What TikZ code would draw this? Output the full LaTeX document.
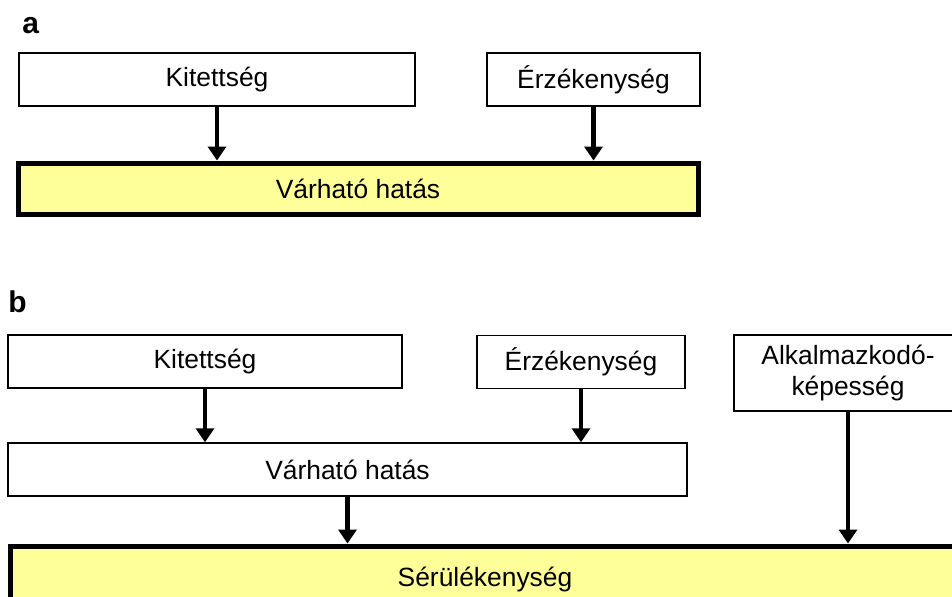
\documentclass[tikz,border=0pt]{standalone}
\usepackage{fontspec}
\setmainfont{Liberation Sans}
\usetikzlibrary{arrows.meta}
\definecolor{lightyellow}{HTML}{FFFF99}

\tikzset{
  box/.style={draw=black, fill=white, line width=0.75pt, inner sep=0pt,
    minimum height=26.5pt, font=\fontsize{13.2}{15.5}\selectfont, align=center},
  resultbox/.style={box, fill=lightyellow, line width=2.5pt},
  flow/.style={line width=2.2pt, -{Triangle[width=9pt,length=7pt]}},
  panel/.style={font=\fontsize{15}{18}\selectfont\bfseries, inner sep=0pt, anchor=base west}
}

\begin{document}
\begin{tikzpicture}[x=0.5pt, y=-0.5pt]

    \useasboundingbox (0,0) rectangle (952,596);
    \clip (0,0) rectangle (952,596);

    % a
    \node[panel] (labA) at (22,33) {a};

    \node[box, minimum width=198pt] (kitA) at (217,79.5) {Kitettség};
    \node[box, minimum width=106.5pt] (erzA) at (593.5,79.5) {Érzékenység};
    \node[resultbox, minimum width=340pt, minimum height=25.5pt] (hatasA) at (358,188.5) {Várható hatás};

    \draw[flow] (kitA.south) -- (kitA.south |- hatasA.north);
    \draw[flow] (erzA.south) -- (erzA.south |- hatasA.north);

    % b
    \node[panel] (labB) at (8,312) {b};

    \node[box, minimum width=197pt] (kitB) at (205,361.5) {Kitettség};
    \node[box, minimum width=104pt] (erzB) at (581,362) {Érzékenység};
    \node[box, minimum width=114pt, minimum height=38pt] (alkB) at (848,373) {Alkalmazkodó-\\képesség};
    \node[box, minimum width=339.5pt] (hatasB) at (347.5,469.5) {Várható hatás};
    \node[resultbox, minimum width=475pt, minimum height=34pt] (serB) at (485,580) {Sérülékenység};

    \draw[flow] (kitB.south) -- (kitB.south |- hatasB.north);
    \draw[flow] (erzB.south) -- (erzB.south |- hatasB.north);
    \draw[flow] (hatasB.south) -- (hatasB.south |- serB.north);
    \draw[flow] (alkB.south) -- (alkB.south |- serB.north);

\end{tikzpicture}
\end{document}
